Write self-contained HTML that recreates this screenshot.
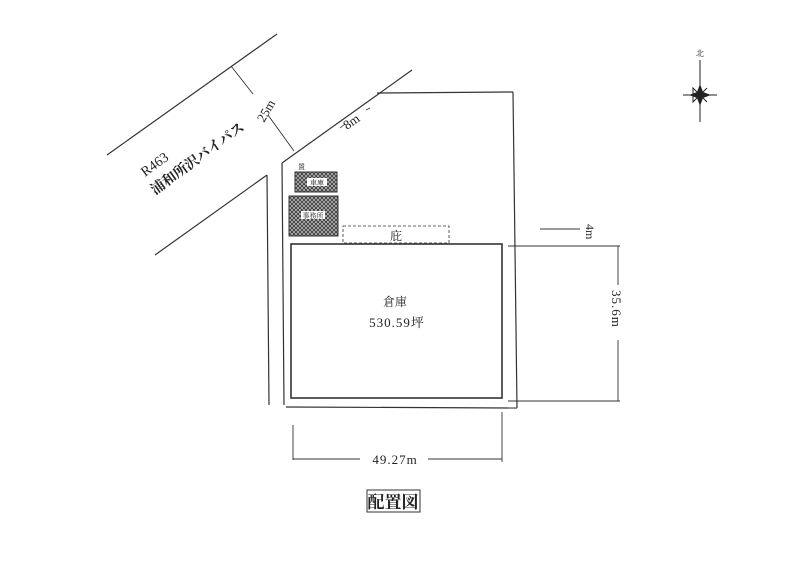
<!DOCTYPE html>
<html><head><meta charset="utf-8"><style>
html,body{margin:0;padding:0;background:#fff;}
svg{display:block;}
text{font-family:"Liberation Serif","Noto Serif CJK SC",serif;fill:#222;}
</style></head><body>
<svg width="800" height="565" viewBox="0 0 800 565" xmlns="http://www.w3.org/2000/svg">
<defs>
<pattern id="h" width="4" height="4" patternUnits="userSpaceOnUse">
<rect width="4" height="4" fill="#bbb"/>
<path d="M0,4 L4,0 M0,0 L4,4" stroke="#333" stroke-width="0.8"/>
</pattern>
</defs>
<g stroke="#333" fill="none" stroke-width="1.2">
<!-- road -->
<line x1="107" y1="155" x2="277" y2="34"/>
<line x1="155" y1="255" x2="267" y2="175"/>
<line x1="267" y1="175" x2="269" y2="405"/>
<!-- property -->
<line x1="282" y1="163" x2="412" y2="70"/>
<line x1="282" y1="163" x2="284" y2="405"/>
<line x1="377" y1="93" x2="513" y2="92"/>
<line x1="513" y1="92" x2="517" y2="408"/>
<line x1="286" y1="407" x2="517" y2="408"/>
<!-- warehouse -->
<rect x="291" y="244" width="211" height="154" stroke-width="1.6"/>
<rect x="343" y="226" width="106" height="17" stroke-dasharray="3,2" stroke-width="0.8"/>
<!-- 25m -->
<line x1="231" y1="66" x2="253" y2="94" stroke-width="0.9"/>
<line x1="268" y1="115" x2="294" y2="151" stroke-width="0.9"/>
<!-- 8m -->
<line x1="340" y1="128" x2="345" y2="124" stroke-width="0.8"/>
<line x1="366" y1="110" x2="370" y2="108" stroke-width="0.8"/>
<!-- 4m -->
<line x1="540" y1="229" x2="580" y2="229" stroke-width="0.9"/>
<!-- 35.6m -->
<line x1="508" y1="246" x2="620" y2="246" stroke-width="0.9"/>
<line x1="508" y1="401" x2="620" y2="401" stroke-width="0.9"/>
<line x1="618" y1="246" x2="618" y2="285" stroke-width="0.9"/>
<line x1="618" y1="340" x2="618" y2="401" stroke-width="0.9"/>
<!-- 49.27m -->
<line x1="293" y1="425" x2="293" y2="460" stroke-width="0.9"/>
<line x1="502" y1="412" x2="502" y2="462" stroke-width="0.9"/>
<line x1="293" y1="459" x2="360" y2="459" stroke-width="0.9"/>
<line x1="428" y1="459" x2="502" y2="459" stroke-width="0.9"/>
</g>
<rect x="295" y="172" width="42" height="20" fill="url(#h)" stroke="#333"/>
<rect x="289" y="196" width="49" height="40" fill="url(#h)" stroke="#333"/>
<rect x="307" y="178" width="20" height="8" fill="#fff"/>
<rect x="301" y="211" width="24" height="8" fill="#fff"/>
<text x="317" y="185" font-size="7" text-anchor="middle">車庫</text>
<text x="313" y="218" font-size="7" text-anchor="middle">事務所</text>
<text x="298" y="169" font-size="7">置</text>
<text x="396" y="240" font-size="12" text-anchor="middle">庇</text>
<text x="395" y="306" font-size="12" text-anchor="middle">倉庫</text>
<text x="397" y="327" font-size="13" text-anchor="middle" letter-spacing="1">530.59坪</text>
<text x="395" y="464" font-size="13" text-anchor="middle" letter-spacing="1">49.27m</text>
<text font-size="13" transform="translate(612,290) rotate(90)" letter-spacing="1">35.6m</text>
<text font-size="12" transform="translate(586,224) rotate(90)">4m</text>
<text font-size="13" transform="translate(264,123) rotate(-60)">25m</text>
<text font-size="13" transform="translate(347,130) rotate(-35)">8m</text>
<text font-size="14" transform="translate(145,177) rotate(-36)">R463</text>
<text font-size="14" font-weight="bold" transform="translate(155,195) rotate(-36)">浦和所沢バイパス</text>
<rect x="367" y="490" width="53" height="22" fill="none" stroke="#333"/>
<text x="393" y="508" font-size="17" font-weight="bold" text-anchor="middle">配置図</text>
<!-- compass -->
<text x="700" y="56" font-size="8" text-anchor="middle">北</text>
<g stroke="#222" stroke-width="1">
<line x1="700" y1="60" x2="700" y2="122"/>
<line x1="683" y1="95" x2="717" y2="95"/>
</g>
<polygon points="700,84 703,92 711,95 703,98 700,106 697,98 689,95 697,92" fill="#222"/>
<polygon points="693,88 700,95 707,88 700,95 707,102 700,95 693,102" fill="none" stroke="#222"/>
</svg>
</body></html>
